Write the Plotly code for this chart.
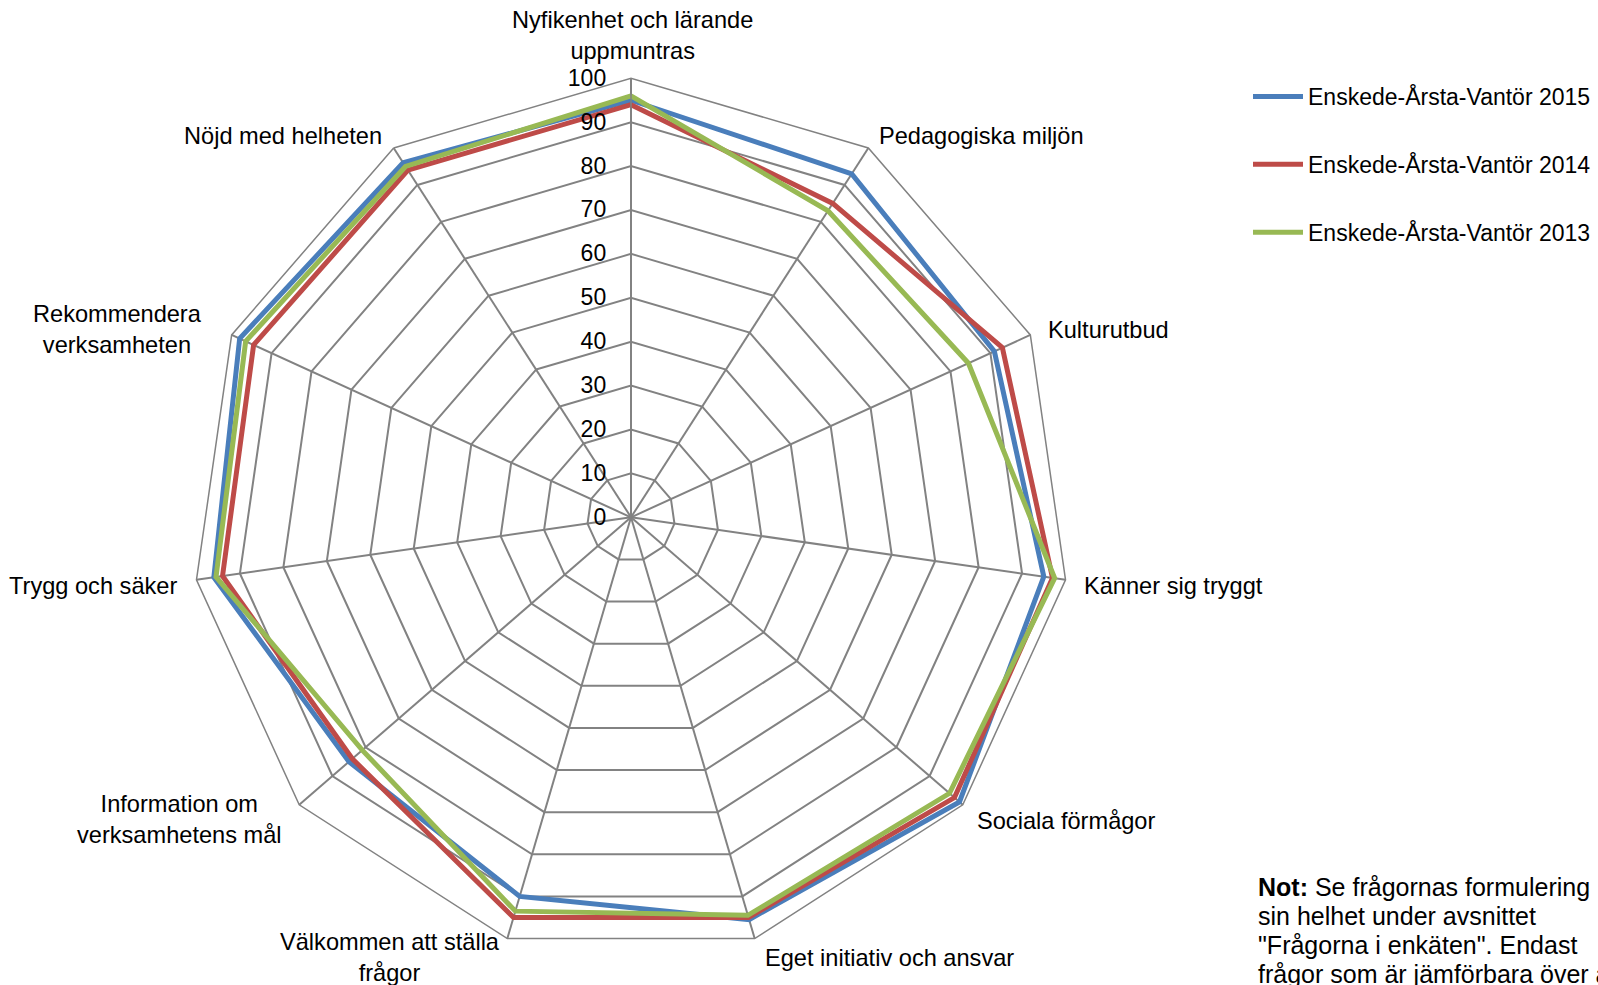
import math
import plotly.graph_objects as go

# Survey areas, clockwise from the top
categories = [
    "Nyfikenhet och lärande<br>uppmuntras",
    "Pedagogiska miljön",
    "Kulturutbud",
    "Känner sig tryggt",
    "Sociala förmågor",
    "Eget initiativ och ansvar",
    "Välkommen att ställa<br>frågor",
    "Information om<br>verksamhetens mål",
    "Trygg och säker",
    "Rekommendera<br>verksamheten",
    "Nöjd med helheten",
]

# Share of positive answers (%) per year
values_2015 = [95, 93, 91, 95, 99, 95.5, 90, 85, 96, 98, 96]
values_2014 = [94, 85, 93, 97, 97.5, 95, 95, 84, 94, 94.5, 94]
values_2013 = [96, 83, 84.5, 97.5, 96, 94.5, 93.5, 81, 95.5, 96.5, 95]

series = [
    ("Enskede-Årsta-Vantör 2015", values_2015, "#4A7EBB"),
    ("Enskede-Årsta-Vantör 2014", values_2014, "#BE4B48"),
    ("Enskede-Årsta-Vantör 2013", values_2013, "#98B954"),
]

radial_ticks = list(range(0, 101, 10))

note_lines = [
    "<b>Not:</b> Se frågornas formulering i",
    "sin helhet under avsnittet",
    "\"Frågorna i enkäten\". Endast",
    "frågor som är jämförbara över åren",
]

FONT = "Liberation Sans, Arial, sans-serif"
FS = 23
FS_LABEL = 23.6
FS_NOTE = 25
GRID = "#828282"

W, H = 1598, 985
cx, cy, R = 631, 517.3, 439  # polar centre and outer radius in pixels

fig = go.Figure()
for name, vals, color in series:
    fig.add_trace(go.Scatterpolar(
        r=vals + vals[:1],
        theta=categories + categories[:1],
        mode="lines",
        name=name,
        legendgroup=name,
        line=dict(color=color, width=5),
        hoverinfo="skip",
    ))

fig.update_layout(
    width=W, height=H,
    margin=dict(l=0, r=0, t=0, b=0),
    paper_bgcolor="white",
    plot_bgcolor="white",
    font=dict(family=FONT, size=FS, color="black"),
    polar=dict(
        domain=dict(x=[(cx - R) / W, (cx + R) / W],
                    y=[(H - cy - R) / H, (H - cy + R) / H]),
        bgcolor="white",
        gridshape="linear",
        angularaxis=dict(
            direction="clockwise",
            rotation=90,
            categoryorder="array",
            categoryarray=categories,
            showline=True, linecolor=GRID, linewidth=1.5,
            showgrid=True, gridcolor=GRID, gridwidth=1.5,
            ticks="",
            showticklabels=False,
        ),
        radialaxis=dict(
            range=[0, 100],
            tickvals=radial_ticks,
            showline=True, linecolor=GRID, linewidth=1.5,
            showgrid=True, gridcolor=GRID, gridwidth=1.5,
            ticks="outside", ticklen=16, tickcolor="rgba(0,0,0,0)",
            angle=90,
            side="counterclockwise",
            tickangle=90,
            tickfont=dict(size=FS, color="black"),
        ),
    ),
    legend=dict(
        x=1248 / W, y=1 - 75 / H, xanchor="left", yanchor="top",
        font=dict(size=FS, color="black"),
        tracegroupgap=35,
        itemwidth=50,
        bgcolor="rgba(0,0,0,0)",
    ),
)

# Category labels placed just outside the outer ring, at each spoke
label_style = [
    ("center", 1, -43),
    ("left", 10, -12),
    ("left", 17, -5),
    ("left", 17, 6),
    ("left", 13, 16),
    ("left", 9, 19),
    ("right", -6, 19),
    ("right", -16, 15),
    ("right", -18, 6),
    ("right", -29, -5),
    ("right", -11, -12),
]
n = len(categories)
for i, (cat, (xa, dx, dy)) in enumerate(zip(categories, label_style)):
    ang = 2 * math.pi * i / n
    vx = cx + R * math.sin(ang)
    vy = cy - R * math.cos(ang)
    fig.add_annotation(
        x=vx / W, y=1 - vy / H, xref="paper", yref="paper",
        xanchor=xa, yanchor="middle", align="center",
        xshift=dx, yshift=-dy, showarrow=False, borderpad=0,
        text=cat, font=dict(size=FS_LABEL, color="black"),
    )

# Footnote, one line per annotation for controlled line spacing
for k, line in enumerate(note_lines):
    fig.add_annotation(
        x=1257 / W, y=1 - (887 + 29 * k) / H, xref="paper", yref="paper",
        xanchor="left", yanchor="middle", align="left", showarrow=False,
        borderpad=0, text=line, font=dict(size=FS_NOTE, color="black"),
    )

fig.write_html("out.html")
